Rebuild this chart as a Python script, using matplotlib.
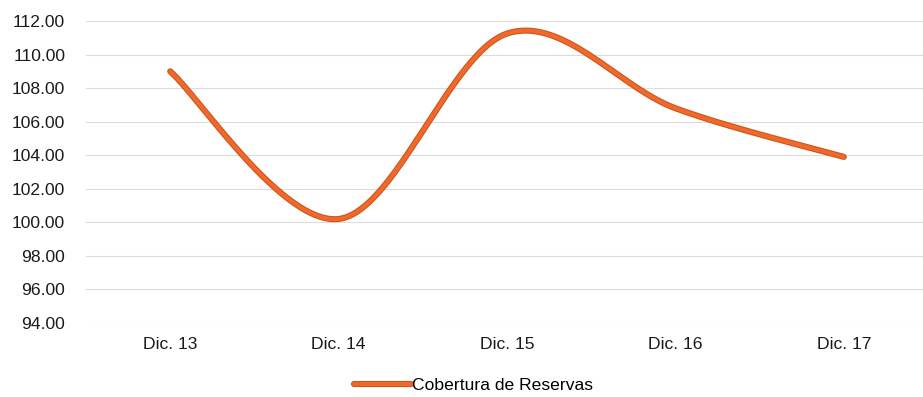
import numpy as np
import matplotlib
matplotlib.use("Agg")
import matplotlib.pyplot as plt
import matplotlib.patheffects as pe
from matplotlib.lines import Line2D

categories = ["Dic. 13", "Dic. 14", "Dic. 15", "Dic. 16", "Dic. 17"]
cobertura = [109.0, 100.2, 111.25, 106.8, 103.9]
series_name = "Cobertura de Reservas"
y_ticks = [94, 96, 98, 100, 102, 104, 106, 108, 110, 112]

LINE_COLOR = "#F0692A"
EDGE_COLOR = "#C9541F"


def smooth(xs, ys, n=60):
    # Excel-style smoothed line: cubic bezier with catmull-rom control points
    xs = np.asarray(xs, float)
    ys = np.asarray(ys, float)
    px = np.concatenate([[xs[0]], xs, [xs[-1]]])
    py = np.concatenate([[ys[0]], ys, [ys[-1]]])
    out_x, out_y = [], []
    t = np.linspace(0, 1, n)
    for i in range(1, len(px) - 2):
        p0 = np.array([px[i], py[i]])
        p3 = np.array([px[i + 1], py[i + 1]])
        c1 = p0 + (np.array([px[i + 1], py[i + 1]]) - np.array([px[i - 1], py[i - 1]])) / 6
        c2 = p3 - (np.array([px[i + 2], py[i + 2]]) - np.array([px[i], py[i]])) / 6
        b = ((1 - t) ** 3)[:, None] * p0 + (3 * (1 - t) ** 2 * t)[:, None] * c1 \
            + (3 * (1 - t) * t ** 2)[:, None] * c2 + (t ** 3)[:, None] * p3
        out_x.extend(b[:, 0])
        out_y.extend(b[:, 1])
    return np.array(out_x), np.array(out_y)


plt.rcParams["font.family"] = ["Liberation Sans", "DejaVu Sans"]

fig = plt.figure(figsize=(9.23, 3.97), dpi=100)
# plot area runs slightly past the right edge of the picture
ax = fig.add_axes([86 / 923, 1 - 323 / 397, 842 / 923, (323 - 21) / 397])

x = np.arange(len(categories))
sx, sy = smooth(x, cobertura)
effects = [pe.Stroke(linewidth=4.4, foreground=EDGE_COLOR), pe.Normal()]
ax.plot(sx, sy, color=LINE_COLOR, lw=2.9, solid_capstyle="round",
        path_effects=effects, zorder=3)

ax.set_xlim(-0.5, 4.5)
ax.set_ylim(94, 112)
ax.set_yticks(y_ticks)
ax.set_yticklabels([f"{v:.2f}" for v in y_ticks])
ax.set_xticks(x)
ax.set_xticklabels(categories)
ax.grid(axis="y", color="#DCDCDC", lw=0.8)
ax.set_axisbelow(True)
for s in ax.spines.values():
    s.set_visible(False)
ax.tick_params(axis="both", length=0, labelsize=12.6, colors="#1a1a1a")
ax.tick_params(axis="y", pad=15)
ax.tick_params(axis="x", pad=10)

handle = Line2D([], [], color=LINE_COLOR, lw=2.9, solid_capstyle="round",
                path_effects=effects)
fig.legend([handle], [series_name], loc="center", bbox_to_anchor=(0.513, 1 - 385 / 397),
           frameon=False, fontsize=12.6, handlelength=3.25, handletextpad=0.1,
           borderpad=0.0)

fig.savefig("out.png", dpi=100)
